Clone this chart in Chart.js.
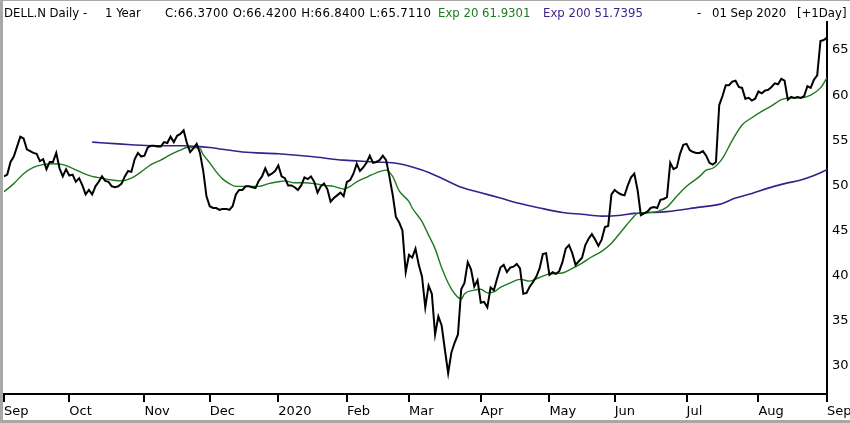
<!DOCTYPE html>
<html>
<head>
<meta charset="utf-8">
<title>DELL.N Daily - 1 Year</title>
<script src="https://cdn.jsdelivr.net/npm/chart.js@4.4.1/dist/chart.umd.min.js"></script>
<style>
  html, body { margin: 0; padding: 0; background: #fff; }
  #wrap { position: relative; width: 850px; height: 423px; overflow: hidden; }
  #head span {
    position: absolute; top: 6px;
    font: 13px "DejaVu Sans Condensed", "Liberation Sans", sans-serif; line-height: 13px;
    white-space: pre; color: #000;
  }
  #head .ohlc { letter-spacing: 0.35px; }
  #head .ema20 { color: #1e7a1e; }
  #head .ema200 { color: #3c1e8c; }
  canvas { position: absolute; left: 0; top: 0; }
</style>
</head>
<body>
<div id="wrap">
  <canvas id="chart" width="850" height="423"></canvas>
  <div id="head">
    <span style="left:4px">DELL.N Daily -</span>
    <span style="left:105px">1 Year</span>
    <span class="ohlc" style="left:165px">C:66.3700 O:66.4200 H:66.8400 L:65.7110</span>
    <span class="ema20" style="left:438px">Exp 20 61.9301</span>
    <span class="ema200" style="left:543px">Exp 200 51.7395</span>
    <span style="left:697px">-</span>
    <span style="left:712px">01 Sep 2020</span>
    <span style="left:797px">[+1Day]</span>
  </div>
</div>
<script>
// Trading days from 03 Sep 2019 (day 0) to 01 Sep 2020 (day 252)
const monthTicks  = [0, 20, 43, 63, 84, 105, 124, 146, 167, 187, 209, 231, 252];
const monthLabels = ['Sep','Oct','Nov','Dec','2020','Feb','Mar','Apr','May','Jun','Jul','Aug','Sep'];
const priceTicks  = [30, 35, 40, 45, 50, 55, 60, 65];

// daily close, one value per trading day
const closes = [
  51.0, 51.2, 52.6, 53.2, 54.3, 55.4, 55.2, 54.0, 53.8, 53.6,
  53.5, 52.7, 52.9, 51.8, 52.6, 52.6, 53.6, 51.9, 51.0, 51.8,
  51.1, 51.2, 50.4, 50.8, 50.0, 49.0, 49.5, 49.0, 49.9, 50.4,
  51.0, 50.5, 50.4, 49.9, 49.8, 49.9, 50.2, 51.0, 51.6, 51.5,
  52.9, 53.6, 53.2, 53.3, 54.2, 54.4, 54.4, 54.3, 54.3, 54.8,
  54.7, 55.4, 54.8, 55.5, 55.7, 56.1, 54.7, 53.7, 54.1, 54.6,
  53.6, 51.6, 48.8, 47.7, 47.5, 47.5, 47.3, 47.4, 47.4, 47.3,
  47.7, 49.0, 49.5, 49.5, 49.9, 49.9, 49.8, 49.7, 50.5, 51.0,
  51.9, 51.1, 51.3, 51.6, 52.2, 51.0, 50.8, 50.0, 50.0, 49.8,
  49.5, 50.0, 50.9, 50.7, 51.0, 50.4, 49.2, 49.9, 50.2, 49.6,
  48.2, 48.6, 48.9, 49.2, 48.8, 50.4, 50.6, 51.3, 52.4, 51.6,
  52.0, 52.5, 53.3, 52.5, 52.6, 52.8, 53.3, 52.8, 51.0, 49.0,
  46.5, 45.9, 45.0, 40.4, 42.3, 42.0, 43.0, 41.2, 39.9, 36.5,
  38.9, 38.0, 33.5, 35.5, 34.5, 31.8, 29.2, 31.5, 32.6, 33.5,
  38.5, 39.2, 41.5, 40.7, 38.8, 39.5, 37.0, 37.1, 36.5, 38.7,
  38.4, 39.7, 40.9, 41.2, 40.4, 40.9, 41.0, 41.3, 40.8, 38.0,
  38.1, 38.8, 39.3, 39.9, 40.8, 42.4, 42.5, 40.1, 40.4, 40.2,
  40.5, 41.5, 43.0, 43.4, 42.5, 41.2, 41.6, 42.0, 43.4, 44.1,
  44.6, 44.0, 43.3, 44.0, 45.4, 45.5, 49.0, 49.5, 49.2, 49.0,
  48.9, 50.0, 50.9, 51.3, 49.5, 46.7, 46.9, 47.1, 47.5, 47.6,
  47.5, 48.4, 48.5, 48.7, 52.5, 51.8, 52.0, 53.5, 54.5, 54.6,
  53.9, 53.7, 53.6, 53.6, 53.8, 53.3, 52.5, 52.3, 52.6, 58.9,
  59.9, 61.1, 61.1, 61.5, 61.6, 60.9, 60.8, 59.6, 59.7, 59.4,
  59.6, 60.4, 60.2, 60.5, 60.6, 60.9, 61.3, 61.2, 61.8, 61.6,
  59.5, 59.8, 59.7, 59.8, 59.7, 59.9, 61.0, 60.8, 61.7, 62.2,
  66.0, 66.1, 66.37
];

// exponential averages, read at sampled trading days
const ema20Days = [0, 3, 6, 9, 12, 15, 18, 21, 24, 27, 30, 33, 36, 39, 42, 45, 48, 51, 54, 56, 58, 60, 61, 63, 65, 67, 69, 71, 75, 78,
  81, 84, 86, 89, 92, 95, 98, 101, 104, 106, 108, 111, 114, 117, 119, 121, 124, 125, 128, 130, 132, 134, 136, 138, 140, 141, 144, 146, 148, 150,
  152, 155, 158, 161, 164, 167, 171, 174, 177, 180, 183, 186, 189, 192, 194, 197, 200, 203, 206, 209, 213, 215, 217, 220, 223, 226, 229, 232, 235, 238,
  241, 244, 247, 250, 252];
const ema20 = [49.3, 50.2, 51.3, 52.0, 52.3, 52.4, 52.3, 51.9, 51.4, 51.0, 50.8, 50.6, 50.5, 50.8, 51.5, 52.3, 52.8, 53.4, 53.9, 54.2, 54.2, 54.1, 53.4, 52.5, 51.5, 50.7, 50.2, 49.9, 49.9, 49.9,
  50.2, 50.4, 50.5, 50.3, 50.3, 50.2, 50.0, 49.9, 49.6, 49.9, 50.4, 50.9, 51.4, 51.7, 51.0, 49.4, 48.2, 47.5, 46.0, 44.5, 43.0, 40.9, 39.2, 38.0, 37.4, 38.0, 38.4, 38.5, 38.1, 38.2,
  38.7, 39.2, 39.6, 39.4, 39.8, 40.2, 40.3, 40.8, 41.4, 42.1, 42.7, 43.6, 44.9, 46.2, 46.9, 47.0, 47.1, 47.6, 48.8, 49.9, 51.0, 51.7, 51.9, 53.0, 55.0, 56.7, 57.5, 58.2, 58.8, 59.5,
  59.7, 59.7, 60.0, 60.8, 61.93];

const ema200Days = [27, 35, 45, 55, 60, 63, 73, 84, 94, 104, 114, 121, 128, 134, 140, 146, 152, 158, 164, 171, 177, 183, 189, 193, 203, 213, 219, 224, 229, 234, 239, 244, 248, 252];
const ema200 = [54.8, 54.6, 54.4, 54.4, 54.3, 54.2, 53.7, 53.5, 53.2, 52.8, 52.6, 52.4, 51.7, 50.8, 49.8, 49.2, 48.6, 48.0, 47.5, 47.0, 46.8, 46.6, 46.7, 46.9, 47.1, 47.6, 47.9, 48.6, 49.1, 49.7, 50.2, 50.6, 51.1, 51.74];

const toPoints = (days, vals) => vals.map((v, i) => ({ x: days[i], y: v }));

// grey frame round the picture
const framePlugin = {
  id: 'frame',
  afterDraw(chart) {
    const ctx = chart.ctx;
    ctx.save();
    ctx.fillStyle = '#a8a8a8';
    ctx.fillRect(0, 0, 3, chart.height);
    ctx.fillRect(0, chart.height - 3, chart.width, 3);
    ctx.fillRect(0, 0, chart.width, 1);
    ctx.restore();
  }
};

const axisFont = { family: '"DejaVu Sans", sans-serif', size: 13 };

new Chart(document.getElementById('chart').getContext('2d'), {
  type: 'line',
  data: {
    datasets: [
      {
        label: 'DELL.N',
        data: toPoints(closes.map((_, i) => i), closes),
        borderColor: '#000',
        borderWidth: 2,
        pointRadius: 0,
        tension: 0
      },
      {
        label: 'Exp 20',
        data: toPoints(ema20Days, ema20),
        borderColor: '#1e7a1e',
        borderWidth: 1.4,
        pointRadius: 0,
        cubicInterpolationMode: 'monotone'
      },
      {
        label: 'Exp 200',
        data: toPoints(ema200Days, ema200),
        borderColor: '#3c1e8c',
        borderWidth: 1.6,
        pointRadius: 0,
        cubicInterpolationMode: 'monotone'
      }
    ]
  },
  options: {
    responsive: false,
    devicePixelRatio: 1,
    animation: false,
    layout: { padding: { top: 22, left: 4, right: 0, bottom: 0 } },
    plugins: { legend: { display: false }, tooltip: { enabled: false } },
    scales: {
      x: {
        type: 'linear',
        min: 0,
        max: 252,
        grid: { drawOnChartArea: false, drawTicks: true, tickLength: 8, color: '#000', lineWidth: 2 },
        border: { display: true, color: '#000', width: 2 },
        ticks: {
          align: 'start',
          autoSkip: false,
          maxRotation: 0,
          padding: 2,
          color: '#000',
          font: axisFont,
          callback: v => {
            const i = monthTicks.indexOf(v);
            return i >= 0 ? monthLabels[i] : '';
          }
        },
        afterBuildTicks: s => { s.ticks = monthTicks.map(v => ({ value: v })); },
        afterFit: s => { s.height = 29; s.paddingLeft = 0; s.paddingRight = 0; }
      },
      y: {
        position: 'right',
        min: 26.9,
        max: 68.1,
        grid: { display: false, drawTicks: false },
        border: { display: true, color: '#000', width: 2 },
        ticks: { padding: 5, color: '#000', font: axisFont },
        afterBuildTicks: s => { s.ticks = priceTicks.map(v => ({ value: v })); },
        afterFit: s => { s.width = 23; s.paddingTop = 0; s.paddingBottom = 0; }
      }
    }
  },
  plugins: [framePlugin]
});
</script>
</body>
</html>
